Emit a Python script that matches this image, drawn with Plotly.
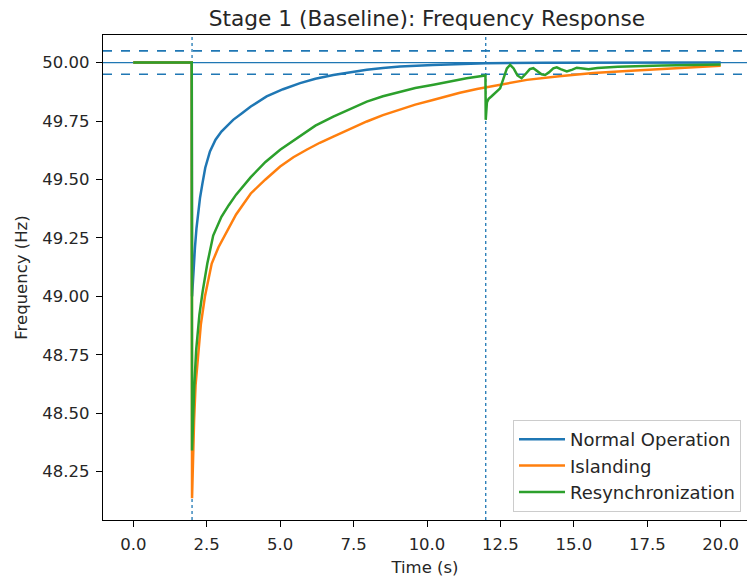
import plotly.graph_objects as go

# ---- data ----
t_normal = [0, 1.99, 2.0, 2.03, 2.06, 2.1, 2.15, 2.2, 2.27, 2.35, 2.45, 2.61, 2.8, 3.0, 3.2,
            3.4, 3.7, 4.0, 4.54, 5.1, 5.68, 6.2, 6.81, 7.4, 7.95, 8.5, 9.08, 10.2, 11.0,
            12.0, 14.0, 20.0]
f_normal = [50.0, 50.0, 49.0, 49.08, 49.14, 49.21, 49.29, 49.35, 49.42, 49.48, 49.55, 49.62,
            49.67, 49.705, 49.732, 49.755, 49.783, 49.812, 49.855, 49.886, 49.912, 49.931,
            49.947, 49.959, 49.969, 49.977, 49.983, 49.99, 49.994, 49.997, 49.999, 50.0]

t_island = [0, 1.99, 2.0, 2.03, 2.07, 2.12, 2.21, 2.3, 2.44, 2.67, 2.9, 3.18, 3.5, 4.0, 4.5,
            5.0, 5.45, 5.9, 6.35, 6.81, 7.4, 7.95, 8.5, 9.08, 9.6, 10.2, 10.7, 11.12, 11.7,
            12.37, 13.4, 14.5, 15.66, 16.8, 17.93, 19.0, 20.0]
f_island = [50.0, 50.0, 48.136, 48.30, 48.47, 48.62, 48.77, 48.88, 49.0, 49.14, 49.21, 49.275,
            49.35, 49.44, 49.50, 49.555, 49.595, 49.627, 49.657, 49.683, 49.718, 49.748,
            49.775, 49.80, 49.82, 49.84, 49.857, 49.871, 49.887, 49.902, 49.926, 49.942,
            49.955, 49.964, 49.972, 49.98, 49.986]

t_resync = [0, 1.99, 2.0, 2.03, 2.07, 2.14, 2.25, 2.36, 2.52, 2.72, 3.0, 3.25, 3.5, 4.0, 4.5,
            5.0, 5.68, 6.2, 6.81, 7.4, 7.95, 8.5, 9.08, 9.6, 10.22, 10.8, 11.35, 11.99, 12.0,
            12.04, 12.1, 12.2, 12.35, 12.49, 12.6, 12.72, 12.83, 12.95, 13.08, 13.22, 13.35,
            13.5, 13.62, 13.75, 13.9, 14.02, 14.15, 14.3, 14.42, 14.55, 14.76, 14.95, 15.1,
            15.3, 15.5, 15.8, 16.5, 18.0, 20.0]
f_resync = [50.0, 50.0, 48.34, 48.47, 48.60, 48.77, 48.92, 49.02, 49.14, 49.26, 49.34, 49.39,
            49.435, 49.51, 49.575, 49.627, 49.684, 49.73, 49.769, 49.803, 49.833, 49.856,
            49.876, 49.891, 49.905, 49.92, 49.933, 49.945, 49.755, 49.83, 49.845, 49.856,
            49.872, 49.89, 49.93, 49.975, 49.99, 49.975, 49.945, 49.933, 49.95, 49.972,
            49.976, 49.965, 49.95, 49.947, 49.958, 49.975, 49.98, 49.972, 49.962, 49.97,
            49.978, 49.975, 49.972, 49.977, 49.982, 49.988, 49.992]

series_names = ["Normal Operation", "Islanding", "Resynchronization"]
series_colors = ["#1f77b4", "#ff7f0e", "#2ca02c"]

nominal_freq = [50.0]
band_freqs = [50.05, 49.95]
event_times = [2.0, 12.0]

x_ticks = [0, 2.5, 5, 7.5, 10, 12.5, 15, 17.5, 20]
y_ticks = [48.25, 48.5, 48.75, 49.0, 49.25, 49.5, 49.75, 50.0]

fig = go.Figure()
for name, color, tt, ff in zip(series_names, series_colors,
                               [t_normal, t_island, t_resync],
                               [f_normal, f_island, f_resync]):
    fig.add_trace(go.Scatter(x=tt, y=ff, mode="lines", name=name,
                             line=dict(color=color, width=2.5)))

shapes = []
for y in nominal_freq:
    shapes.append(dict(type="line", xref="paper", yref="y", x0=0, x1=1, y0=y, y1=y,
                       line=dict(color="#1f77b4", width=1.3), layer="below"))
for y in band_freqs:
    shapes.append(dict(type="line", xref="paper", yref="y", x0=0, x1=1, y0=y, y1=y,
                       line=dict(color="#1f77b4", width=1.6, dash="dash"), layer="below"))
for x in event_times:
    shapes.append(dict(type="line", xref="x", yref="paper", x0=x, x1=x, y0=0, y1=1,
                       line=dict(color="#1f77b4", width=1.3, dash="dot"), layer="below"))

font_family = "DejaVu Sans"
fig.update_layout(
    width=747, height=580,
    margin=dict(l=103, r=0, t=35, b=60),
    paper_bgcolor="white", plot_bgcolor="white",
    font=dict(family=font_family, size=16.5, color="#262626"),
    title=dict(text="Stage 1 (Baseline): Frequency Response", x=427 / 747,
               xanchor="center", y=1 - 18 / 580, yanchor="middle",
               font=dict(size=21.7, color="#262626")),
    shapes=shapes,
    showlegend=True,
    legend=dict(x=0.9907, y=0.0165, xanchor="right", yanchor="bottom",
                bgcolor="rgba(255,255,255,0.8)", bordercolor="#cccccc", borderwidth=1,
                font=dict(size=18, color="#262626"), itemwidth=46,
                tracegroupgap=0),
    xaxis=dict(range=[-1.032, 20.896], tickvals=x_ticks, tickformat=".1f",
               showgrid=False, zeroline=False, showline=True, linecolor="black",
               linewidth=1.3, mirror=True, ticks="outside", ticklen=6, tickcolor="black",
               tickwidth=1.3, ticklabelstandoff=3, automargin=False,
               title=dict(text="Time (s)", standoff=8, font=dict(size=16.5))),
    yaxis=dict(range=[48.043, 50.118], tickvals=y_ticks, tickformat=".2f",
               showgrid=False, zeroline=False, showline=True, linecolor="black",
               linewidth=1.3, mirror=False, ticks="outside", ticklen=6, tickcolor="black",
               tickwidth=1.3, ticklabelstandoff=3, automargin=False,
               title=dict(text="Frequency (Hz)", standoff=10, font=dict(size=16.5))),
)

fig.write_html("out.html")
